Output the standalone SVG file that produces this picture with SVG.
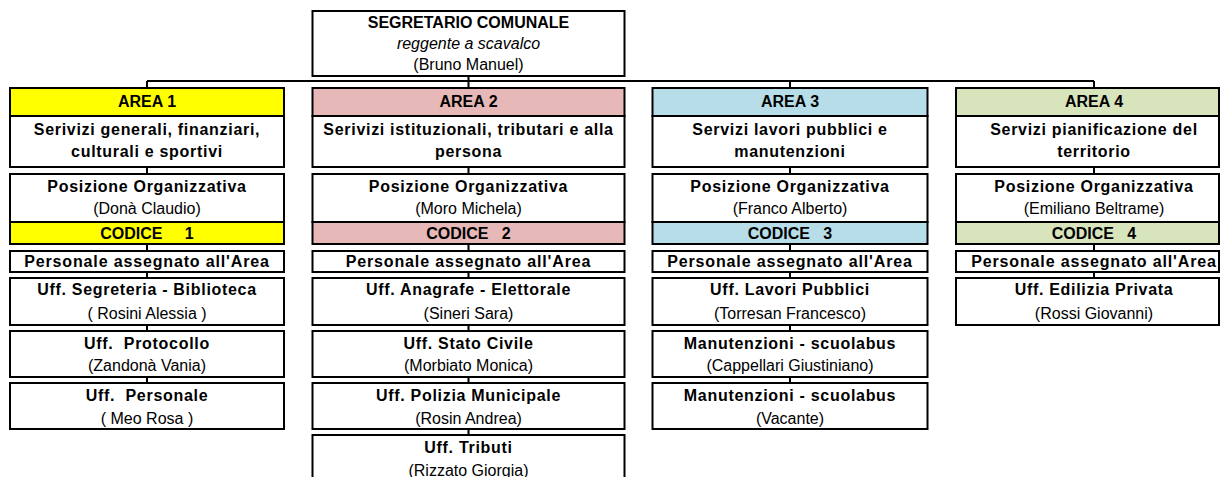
<svg xmlns="http://www.w3.org/2000/svg" width="1221" height="477" viewBox="0 0 1221 477">
<style>
.box{fill:#fff;stroke:#000;stroke-width:2}
.y{fill:#FFFF00}.p{fill:#E6B8B7}.c{fill:#B7DEE8}.g{fill:#D8E4BC}
.t{font-family:"Liberation Sans",Arial,sans-serif;font-size:16px;text-anchor:middle;fill:#000}
.b{font-weight:bold}
.s{letter-spacing:0.7px}
.ss{letter-spacing:0.85px}
.i{font-style:italic}
.ln{stroke:#000;stroke-width:2;fill:none}
</style>
<rect width="1221" height="477" fill="#fff"/>
<g id="connectors">
<path class="ln" d="M468.5 76V81M147 81H1094M147 81V88M468.5 81V88M790 81V88M1094 81V88"/>
<path class="ln" d="M147 167V174M147 244V251M147 272V278M147 325V331M147 377V383"/>
<path class="ln" d="M468.5 167V174M468.5 244V251M468.5 272V278M468.5 325V331M468.5 377V383M468.5 429V435"/>
<path class="ln" d="M790 167V174M790 244V251M790 272V278M790 325V331M790 377V383"/>
<path class="ln" d="M1094 167V174M1094 244V251M1094 272V278"/>
</g>
<g id="segretario">
<rect class="box" x="312.5" y="11" width="312" height="65"/>
<text class="t b" x="468.5" y="27.5">SEGRETARIO COMUNALE</text>
<text class="t i" x="468.5" y="49">reggente a scavalco</text>
<text class="t" x="468.5" y="70">(Bruno Manuel)</text>
</g>
<g id="area1">
<rect class="box y" x="10" y="88" width="274" height="28"/>
<text class="t b" x="147" y="107">AREA 1</text>
<rect class="box" x="10" y="116" width="274" height="51"/>
<text class="t b s" x="147" y="135">Serivizi generali, finanziari,</text>
<text class="t b s" x="147" y="157">culturali e sportivi</text>
</g>
<g id="po1">
<rect class="box" x="10" y="174" width="274" height="48"/>
<text class="t b s" x="147" y="191.5">Posizione Organizzativa</text>
<text class="t" x="147" y="213.5">(Donà Claudio)</text>
<rect class="box y" x="10" y="222" width="274" height="22"/>
<text class="t b" x="147" y="238.5">CODICE&#160;&#160;&#160;&#160;&#160;1</text>
</g>
<g id="pers1">
<rect class="box" x="10" y="251" width="274" height="21"/>
<text class="t b ss" x="147" y="267">Personale assegnato all'Area</text>
</g>
<g id="uff1a">
<rect class="box" x="10" y="278" width="274" height="47"/>
<text class="t b s" x="147" y="295">Uff. Segreteria - Biblioteca</text>
<text class="t" x="147" y="318.5">( Rosini Alessia )</text>
</g>
<g id="uff1b">
<rect class="box" x="10" y="331" width="274" height="46"/>
<text class="t b s" x="147" y="348.5">Uff.&#160; Protocollo</text>
<text class="t" x="147" y="371">(Zandonà Vania)</text>
</g>
<g id="uff1c">
<rect class="box" x="10" y="383" width="274" height="46"/>
<text class="t b s" x="147" y="400.5">Uff.&#160; Personale</text>
<text class="t" x="147" y="423.5">( Meo Rosa )</text>
</g>
<g id="area2">
<rect class="box p" x="312.5" y="88" width="312" height="28"/>
<text class="t b" x="468.5" y="107">AREA 2</text>
<rect class="box" x="312.5" y="116" width="312" height="51"/>
<text class="t b s" x="468.5" y="135">Serivizi istituzionali, tributari e alla</text>
<text class="t b s" x="468.5" y="157">persona</text>
</g>
<g id="po2">
<rect class="box" x="312.5" y="174" width="312" height="48"/>
<text class="t b s" x="468.5" y="191.5">Posizione Organizzativa</text>
<text class="t" x="468.5" y="213.5">(Moro Michela)</text>
<rect class="box p" x="312.5" y="222" width="312" height="22"/>
<text class="t b" x="468.5" y="238.5">CODICE&#160;&#160;&#160;2</text>
</g>
<g id="pers2">
<rect class="box" x="312.5" y="251" width="312" height="21"/>
<text class="t b ss" x="468.5" y="267">Personale assegnato all'Area</text>
</g>
<g id="uff2a">
<rect class="box" x="312.5" y="278" width="312" height="47"/>
<text class="t b s" x="468.5" y="295">Uff. Anagrafe - Elettorale</text>
<text class="t" x="468.5" y="318.5">(Sineri Sara)</text>
</g>
<g id="uff2b">
<rect class="box" x="312.5" y="331" width="312" height="46"/>
<text class="t b s" x="468.5" y="348.5">Uff. Stato Civile</text>
<text class="t" x="468.5" y="371">(Morbiato Monica)</text>
</g>
<g id="uff2c">
<rect class="box" x="312.5" y="383" width="312" height="46"/>
<text class="t b s" x="468.5" y="400.5">Uff. Polizia Municipale</text>
<text class="t" x="468.5" y="423.5">(Rosin Andrea)</text>
</g>
<g id="uff2d">
<rect class="box" x="312.5" y="435" width="312" height="50"/>
<text class="t b s" x="468.5" y="453">Uff. Tributi</text>
<text class="t" x="468.5" y="475.5">(Rizzato Giorgia)</text>
</g>
<g id="area3">
<rect class="box c" x="652.5" y="88" width="275" height="28"/>
<text class="t b" x="790" y="107">AREA 3</text>
<rect class="box" x="652.5" y="116" width="275" height="51"/>
<text class="t b s" x="790" y="135">Servizi lavori pubblici e</text>
<text class="t b s" x="790" y="157">manutenzioni</text>
</g>
<g id="po3">
<rect class="box" x="652.5" y="174" width="275" height="48"/>
<text class="t b s" x="790" y="191.5">Posizione Organizzativa</text>
<text class="t" x="790" y="213.5">(Franco Alberto)</text>
<rect class="box c" x="652.5" y="222" width="275" height="22"/>
<text class="t b" x="790" y="238.5">CODICE&#160;&#160;&#160;3</text>
</g>
<g id="pers3">
<rect class="box" x="652.5" y="251" width="275" height="21"/>
<text class="t b ss" x="790" y="267">Personale assegnato all'Area</text>
</g>
<g id="uff3a">
<rect class="box" x="652.5" y="278" width="275" height="47"/>
<text class="t b s" x="790" y="295">Uff. Lavori Pubblici</text>
<text class="t" x="790" y="318.5">(Torresan Francesco)</text>
</g>
<g id="uff3b">
<rect class="box" x="652.5" y="331" width="275" height="46"/>
<text class="t b s" x="790" y="348.5">Manutenzioni - scuolabus</text>
<text class="t" x="790" y="371">(Cappellari Giustiniano)</text>
</g>
<g id="uff3c">
<rect class="box" x="652.5" y="383" width="275" height="46"/>
<text class="t b s" x="790" y="400.5">Manutenzioni - scuolabus</text>
<text class="t" x="790" y="423.5">(Vacante)</text>
</g>
<g id="area4">
<rect class="box g" x="956" y="88" width="263" height="28"/>
<text class="t b" x="1094" y="107">AREA 4</text>
<rect class="box" x="956" y="116" width="263" height="51"/>
<text class="t b s" x="1094" y="135">Servizi pianificazione del</text>
<text class="t b s" x="1094" y="157">territorio</text>
</g>
<g id="po4">
<rect class="box" x="956" y="174" width="263" height="48"/>
<text class="t b s" x="1094" y="191.5">Posizione Organizzativa</text>
<text class="t" x="1094" y="213.5">(Emiliano Beltrame)</text>
<rect class="box g" x="956" y="222" width="263" height="22"/>
<text class="t b" x="1094" y="238.5">CODICE&#160;&#160;&#160;4</text>
</g>
<g id="pers4">
<rect class="box" x="956" y="251" width="263" height="21"/>
<text class="t b ss" x="1094" y="267">Personale assegnato all'Area</text>
</g>
<g id="uff4a">
<rect class="box" x="956" y="278" width="263" height="47"/>
<text class="t b s" x="1094" y="295">Uff. Edilizia Privata</text>
<text class="t" x="1094" y="318.5">(Rossi Giovanni)</text>
</g>
</svg>
